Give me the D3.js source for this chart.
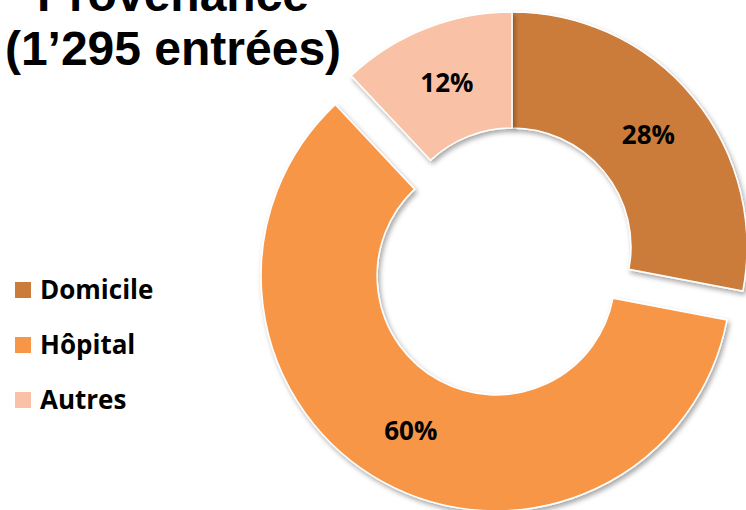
<!DOCTYPE html>
<html>
<head>
<meta charset="utf-8">
<script src="https://cdn.jsdelivr.net/npm/d3@7"></script>
<style>
  body { margin: 0; background: #fff; }
  svg { display: block; }
</style>
</head>
<body>
<div id="chart"></div>
<script>
// Provenance des entrées
const categories = ["Domicile", "Hôpital", "Autres"];
const values = [28, 60, 12];
const colors = ["#CB7B3A", "#F79646", "#F9C2A6"];
const exploded = [0, 33, 0];
const titleLines = ["Provenance", "(1\u2019295 entrées)"];

const width = 746;
const height = 510;

const svg = d3.select("#chart")
  .append("svg")
  .attr("width", width)
  .attr("height", height);

const defs = svg.append("defs");
const shadow = defs.append("filter")
  .attr("id", "shadow")
  .attr("x", "-10%").attr("y", "-10%")
  .attr("width", "130%").attr("height", "130%");
shadow.append("feDropShadow")
  .attr("dx", 2).attr("dy", 3)
  .attr("stdDeviation", 2.5)
  .attr("flood-color", "#000")
  .attr("flood-opacity", 0.35);

// title (first line runs off the top, as in the original)
svg.append("g")
  .selectAll("text")
  .data(titleLines)
  .join("text")
  .attr("x", 173)
  .attr("y", (d, i) => 11 + i * 54)
  .attr("text-anchor", "middle")
  .attr("font-family", "Liberation Sans, Arial, sans-serif")
  .attr("font-weight", "bold")
  .attr("font-size", 48)
  .attr("fill", "#000")
  .text(d => d);

// donut
const cx = 512, cy = 247;
const outer = 235, inner = 119;

const pie = d3.pie().sort(null).value(d => d.value);
const arcs = pie(categories.map((c, i) => ({ name: c, value: values[i], i })));

const arc = d3.arc().innerRadius(inner).outerRadius(outer);

const donut = svg.append("g")
  .attr("transform", `translate(${cx},${cy})`);

function offset(d) {
  const a = (d.startAngle + d.endAngle) / 2;
  const r = exploded[d.data.i];
  return [Math.sin(a) * r, -Math.cos(a) * r];
}

const slice = donut.selectAll("g.slice")
  .data(arcs)
  .join("g")
  .attr("class", "slice")
  .attr("transform", d => `translate(${offset(d)})`);

slice.append("path")
  .attr("d", arc)
  .attr("fill", d => colors[d.data.i])
  .attr("stroke", "#fff")
  .attr("stroke-width", 1.5)
  .attr("filter", "url(#shadow)");

slice.append("text")
  .attr("transform", d => `translate(${arc.centroid(d)})`)
  .attr("text-anchor", "middle")
  .attr("dy", "0.36em")
  .attr("font-family", "Open Sans, sans-serif")
  .attr("font-weight", "bold")
  .attr("font-size", 26)
  .attr("fill", "#000")
  .text(d => d.data.value + "%");

// legend
const legend = svg.append("g")
  .selectAll("g")
  .data(categories)
  .join("g")
  .attr("transform", (d, i) => `translate(15,${282 + i * 55})`);

legend.append("rect")
  .attr("width", 16)
  .attr("height", 16)
  .attr("fill", (d, i) => colors[i]);

legend.append("text")
  .attr("x", 25)
  .attr("y", 8)
  .attr("dy", "0.36em")
  .attr("font-family", "Open Sans, sans-serif")
  .attr("font-weight", "bold")
  .attr("font-size", 26)
  .attr("fill", "#000")
  .text(d => d);
</script>
</body>
</html>
